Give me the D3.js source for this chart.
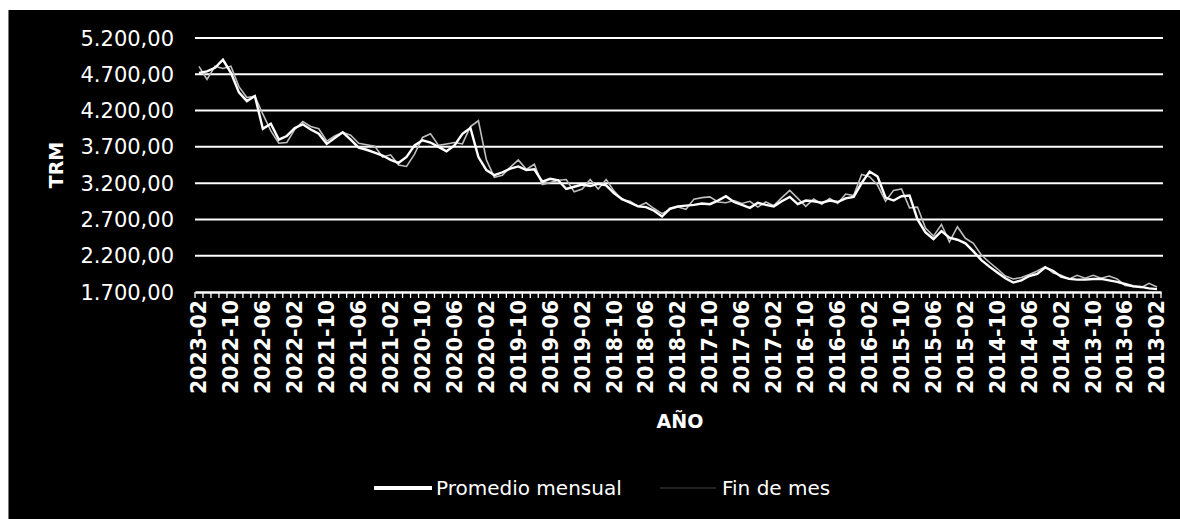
<!DOCTYPE html>
<html><head><meta charset="utf-8">
<script src="https://cdn.jsdelivr.net/npm/d3@7"></script>
<style>html,body{margin:0;padding:0;background:#fff;}svg{display:block;}</style>
</head><body>
<svg id="c" width="1180" height="519"></svg>
<script>
// ---- data ----
const startYear = 2023, startMonth = 2, nMonths = 121; // 2023-02 back to 2013-02
const categories = [];
for (let i = 0; i < nMonths; i++) {
  const m0 = (startYear * 12 + (startMonth - 1)) - i;
  const yy = Math.floor(m0 / 12), mm = m0 % 12 + 1;
  categories.push(yy + "-" + String(mm).padStart(2, "0"));
}
const tickLabels = ["2023-02","2022-10","2022-06","2022-02","2021-10","2021-06","2021-02","2020-10","2020-06","2020-02","2019-10","2019-06","2019-02","2018-10","2018-06","2018-02","2017-10","2017-06","2017-02","2016-10","2016-06","2016-02","2015-10","2015-06","2015-02","2014-10","2014-06","2014-02","2013-10","2013-06","2013-02"];
const yTicks = [1700,2200,2700,3200,3700,4200,4700,5200];
const promedioMensual = [
  4720,4740,4790,4900,4720,4450,4330,4400,3950,4020,
  3800,3850,3960,4010,3940,3880,3740,3820,3900,3800,
  3690,3660,3620,3580,3520,3480,3560,3720,3790,3760,
  3700,3640,3720,3880,3960,3560,3380,3310,3350,3400,
  3430,3380,3390,3220,3260,3240,3120,3150,3180,3160,
  3190,3170,3060,2980,2930,2880,2870,2820,2740,2850,
  2880,2890,2900,2920,2910,2960,3020,2940,2900,2860,
  2930,2900,2880,2950,3010,2910,2960,2950,2930,2960,
  2940,2990,3010,3200,3360,3290,3000,2960,3020,3030,
  2700,2520,2430,2540,2450,2420,2370,2260,2140,2050,
  1970,1890,1830,1860,1920,1950,2040,1990,1910,1880,
  1870,1870,1880,1880,1860,1840,1810,1780,1770,1750,
  1740];
const finDeMes = [
  4810,4630,4810,4780,4810,4530,4380,4400,4150,3920,
  3750,3760,3940,4050,3980,3950,3780,3850,3900,3860,
  3750,3730,3710,3560,3590,3450,3430,3600,3830,3880,
  3720,3740,3760,3740,3980,4060,3520,3280,3310,3420,
  3520,3390,3460,3180,3210,3240,3250,3080,3120,3250,
  3120,3250,3090,2970,2950,2880,2930,2850,2780,2840,
  2870,2840,2980,3000,3010,2940,2930,2960,2920,2950,
  2870,2940,2890,3000,3100,2990,2880,2980,2910,2990,
  2920,3050,3030,3320,3290,3170,2950,3100,3120,2860,
  2870,2580,2470,2630,2390,2600,2440,2370,2210,2110,
  2020,1920,1880,1900,1940,1990,2050,1960,1930,1880,
  1930,1890,1930,1890,1920,1880,1790,1780,1760,1820,
  1770];
const seriesNames = ["Promedio mensual","Fin de mes"];

// ---- chart ----
const svg = d3.select("#c");
svg.append("rect").attr("x",8).attr("y",10).attr("width",1172).attr("height",509).attr("fill","#000");
svg.append("line").attr("x1",8.5).attr("x2",8.5).attr("y1",10).attr("y2",519).attr("stroke","#777").attr("stroke-width",1);

const pL = 195, pR = 1161, pT = 38, pB = 292;
const x = d3.scaleBand().domain(categories).range([pL, pR]);
const y = d3.scaleLinear().domain([1700, 5200]).range([pB, pT]);
const cx = d => x(d) + x.bandwidth() / 2;

// gridlines
svg.append("g").selectAll("line").data(yTicks.slice(1)).join("line")
  .attr("x1", pL).attr("x2", pR + 2)
  .attr("y1", d => y(d)).attr("y2", d => y(d))
  .attr("stroke", "#fff").attr("stroke-width", 2);

// y labels
const fmt = v => d3.format(",.2f")(v).replace(/,/g, "#").replace(".", ",").replace(/#/g, ".");
svg.append("g").selectAll("text").data(yTicks).join("text")
  .attr("x", 174).attr("y", d => y(d)).attr("dy", "0.36em")
  .attr("text-anchor", "end").attr("fill", "#fff")
  .attr("font-family", "DejaVu Sans").attr("font-size", 21)
  .text(fmt);

// x axis
const xAxis = d3.axisBottom(x).tickValues(tickLabels).tickSize(0).tickFormat(d => d);
const gx = svg.append("g").attr("transform", `translate(0,${pB})`).call(xAxis);
gx.select(".domain").attr("stroke", "#fff").attr("stroke-width", 2.5);
gx.selectAll("text")
  .attr("fill", "#fff").attr("font-family", "DejaVu Sans").attr("font-weight", "bold").attr("font-size", 20.5)
  .attr("text-anchor", "end").attr("transform", "rotate(-90)")
  .attr("x", -8).attr("y", 0).attr("dy", "0.36em");
// minor ticks at every month boundary
svg.append("g").selectAll("line").data(categories.concat([null])).join("line")
  .attr("x1", (d, i) => pL + i * x.step()).attr("x2", (d, i) => pL + i * x.step())
  .attr("y1", pB).attr("y2", pB + 6)
  .attr("stroke", "#fff").attr("stroke-width", 1.3);

// axis titles
svg.append("text").attr("transform", `translate(56,165) rotate(-90)`)
  .attr("text-anchor", "middle").attr("dy", "0.36em").attr("fill", "#fff").attr("font-family", "DejaVu Sans")
  .attr("font-weight", "bold").attr("font-size", 19).text("TRM");
svg.append("text").attr("x", 680).attr("y", 428).attr("text-anchor", "middle").attr("fill", "#fff")
  .attr("font-family", "DejaVu Sans").attr("font-weight", "bold").attr("font-size", 19).text("AÑO");

// lines
const line = arr => d3.line().x((d, i) => cx(categories[i])).y(d => y(d))(arr);
svg.append("path").attr("d", line(finDeMes)).attr("fill", "none").attr("stroke", "#bdbdbd").attr("stroke-width", 1.6);
svg.append("path").attr("d", line(promedioMensual)).attr("fill", "none").attr("stroke", "#fff").attr("stroke-width", 2.4);

// legend
const lg = svg.append("g").attr("font-family", "DejaVu Sans").attr("font-size", 20).attr("fill", "#fff");
lg.append("line").attr("x1", 374).attr("x2", 432).attr("y1", 488).attr("y2", 488).attr("stroke", "#fff").attr("stroke-width", 4);
lg.append("text").attr("x", 436).attr("y", 488).attr("dy", "0.36em").text(seriesNames[0]);
lg.append("line").attr("x1", 660).attr("x2", 716).attr("y1", 488).attr("y2", 488).attr("stroke", "#bdbdbd").attr("stroke-width", 1.6).attr("stroke-opacity", 0.25);
lg.append("text").attr("x", 722).attr("y", 488).attr("dy", "0.36em").text(seriesNames[1]);
</script>
</body></html>
